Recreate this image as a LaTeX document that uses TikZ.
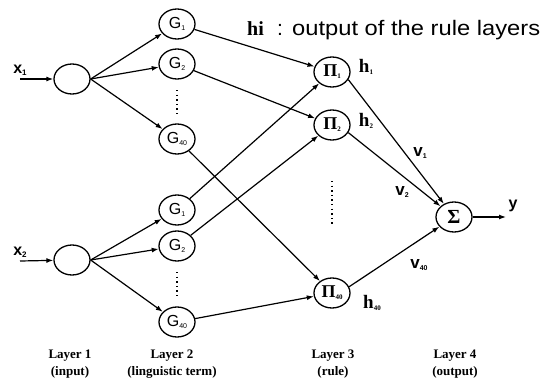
\documentclass[tikz,border=0pt]{standalone}
\usepackage{fontspec}
\usepackage{graphicx}
\setmainfont{Liberation Serif}
\setsansfont{Liberation Sans}
\usetikzlibrary{shapes.geometric,arrows.meta}
% small lowered index used in all node and weight labels
\newcommand\lowidx[2][7]{\raisebox{-0.25ex}{\fontsize{#1}{#1}\selectfont #2}}

\begin{document}
\begin{tikzpicture}[x=1pt,y=-1pt,
  unit/.style={draw, ellipse, line width=1.3pt, minimum width=36pt, minimum height=30pt, inner sep=0pt},
  link/.style={line width=1.2pt, -{Latex[length=7pt,width=5pt]}},
  gl/.style={font=\sffamily\fontsize{16}{16}\selectfont},
  pl/.style={font=\rmfamily\bfseries\fontsize{18}{18}\selectfont},
  wl/.style={font=\rmfamily\bfseries\fontsize{19}{19}\selectfont, inner sep=0pt},
  vl/.style={font=\sffamily\bfseries\fontsize{17}{17}\selectfont, inner sep=0pt},
  xl/.style={font=\sffamily\bfseries\fontsize{16}{16}\selectfont, inner sep=0pt},
  layer/.style={font=\rmfamily\bfseries\fontsize{13}{16.5}\selectfont, align=center, inner sep=0pt},
  dotcol/.style={line width=1.4pt, dash pattern=on 1.4pt off 3.2pt}
]
\useasboundingbox (0,0) rectangle (552,378);

% layer 1: inputs
\node[unit] (in1) at (72,79) {};
\node[unit] (in2) at (72,260) {};
\coordinate (src1) at (20,79);
\coordinate (src2) at (20,261);
\node[xl] (lx1) at (20,70) {x\lowidx[8]{1}};
\node[xl] (lx2) at (20,252) {x\lowidx[8]{2}};

% layer 2: linguistic terms
\node[unit,gl] (ga1) at (177,24)  {G\lowidx{1}};
\node[unit,gl] (ga2) at (177,64)  {G\lowidx{2}};
\node[unit,gl] (ga3) at (177,139) {G\lowidx{40}};
\node[unit,gl] (gb1) at (177,210) {G\lowidx{1}};
\node[unit,gl] (gb2) at (177,246) {G\lowidx{2}};
\node[unit,gl] (gb3) at (177,322) {G\lowidx{40}};

% layer 3: rules
\node[unit,pl] (p1) at (332,72)  {Π\lowidx{1}};
\node[unit,pl] (p2) at (332,125) {Π\lowidx{2}};
\node[unit,pl] (p3) at (332,293) {Π\lowidx{40}};

% layer 4: output
\node[unit,font=\rmfamily\bfseries\fontsize{20}{20}\selectfont] (sum) at (454,217) {Σ};
\coordinate (out) at (506,217);
\node[xl] (ly) at (513,206) {y};

% vertical ellipses
\draw[dotcol] (177,90) -- (177,117);
\draw[dotcol] (177,272) -- (177,299);
\draw[dotcol] (332,181) -- (332,226);

% connections
\draw[link] (src1) -- (in1);
\draw[link] (src2) -- (in2);
\foreach \g in {ga1,ga2,ga3} \draw[link] (in1.east) -- (\g);
\foreach \g in {gb1,gb2,gb3} \draw[link] (in2.east) -- (\g);
\draw[link] (ga1) -- (p1);
\draw[link] (ga2) -- (p2);
\draw[link] (ga3) -- (p3);
\draw[link] (gb1) -- (p1);
\draw[link] (gb2) -- (p2);
\draw[link] (gb3) -- (p3);
\draw[link] (p1.-25) -- (sum);
\draw[link] (p2.-25) -- (sum);
\draw[link] (p3.20) -- (sum);
\draw[link] (sum) -- (out);

% rule outputs and weights
\node[wl] (h1) at (366,67)  {h\lowidx{1}};
\node[wl] (h2) at (366,121) {h\lowidx{2}};
\node[wl] (h3) at (372,303) {h\lowidx{40}};
\node[vl] (v1) at (420,153) {v\lowidx{1}};
\node[vl] (v2) at (402,192) {v\lowidx{2}};
\node[vl] (v3) at (419,265) {v\lowidx{40}};

% legend
\node[anchor=base west, inner sep=0pt, font=\rmfamily\bfseries\fontsize{20}{20}\selectfont] (hi) at (247,35) {hi};
\node[anchor=base, inner sep=0pt, font=\sffamily\fontsize{21}{21}\selectfont] (colon) at (280,35) {:};
\node[anchor=base west, inner sep=0pt, font=\sffamily\fontsize{21}{21}\selectfont] (legend) at (292,35) {\scalebox{1.13}[1]{output of the rule layers}};

% layer captions
\node[layer] (c1) at (70,364)  {Layer 1\\(input)};
\node[layer] (c2) at (172,364) {Layer 2\\(linguistic term)};
\node[layer] (c3) at (333,364) {Layer 3\\(rule)};
\node[layer] (c4) at (455,364) {Layer 4\\(output)};
\end{tikzpicture}
\end{document}
